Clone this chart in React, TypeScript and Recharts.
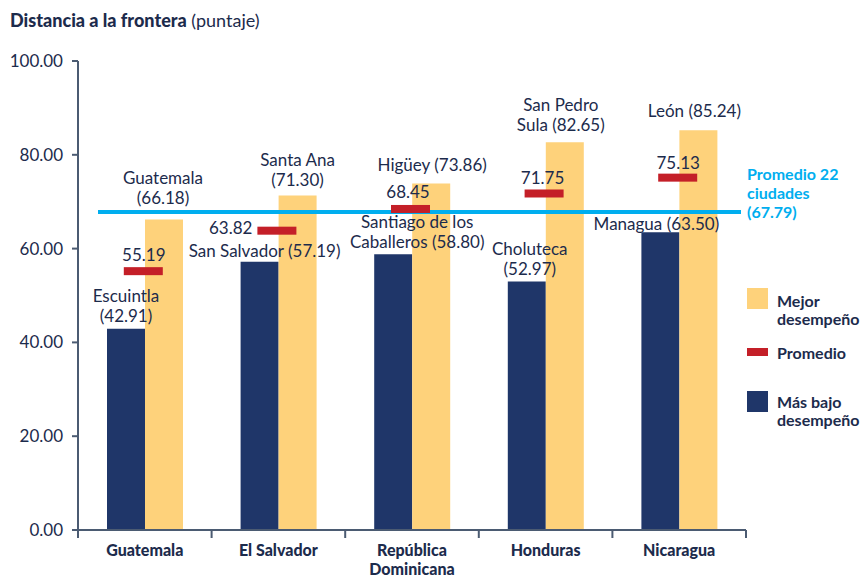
import { ComposedChart, Bar, Scatter, XAxis, YAxis, ReferenceLine, Legend, LabelList } from 'recharts'

// Data
const countries = ['Guatemala', 'El Salvador', 'República Dominicana', 'Honduras', 'Nicaragua']
const countryLines = [['Guatemala'], ['El Salvador'], ['República', 'Dominicana'], ['Honduras'], ['Nicaragua']]
const lowValues = [42.91, 57.19, 58.8, 52.97, 63.5]
const bestValues = [66.18, 71.3, 73.86, 82.65, 85.24]
const avgValues = [55.19, 63.82, 68.45, 71.75, 75.13]
const overallAvg = 67.79
// city names, already wrapped; an empty last line means the value goes on its own line
const lowCities = [['Escuintla', ''], ['San Salvador'], ['Santiago de los', 'Caballeros'], ['Choluteca', ''], ['Managua']]
const bestCities = [['Guatemala', ''], ['Santa Ana', ''], ['Higüey'], ['San Pedro', 'Sula'], ['León']]
const yTicks = [0, 20, 40, 60, 80, 100]
const legendItems = [['Mejor', 'desempeño'], ['Promedio'], ['Más bajo', 'desempeño']]
const avgLabelLines = ['Promedio 22', 'ciudades']

const FONT = 'Lato, "Noto Sans", sans-serif'
const NAVY = '#1f3669'
const GOLD = '#fed27b'
const RED = '#c41f28'
const CYAN = '#00aeef'
const INK = '#1c2b4c'
const AXIS = '#4b5b72'
const BAND = 133.6

// label nudges (layout only): horizontal shift and gap above the bar top
const lowNudge = [{ dx: 0, gap: 7 }, { dx: 5, gap: 5 }, { dx: 24, gap: 6 }, { dx: 3, gap: 7 }, { dx: -4, gap: 2 }]
const bestNudge = [{ dx: -1, gap: 16 }, { dx: 0, gap: 10 }, { dx: 1, gap: 13 }, { dx: -4, gap: 11 }, { dx: -4, gap: 13 }]
const meanNudge = [{ dx: -1, gap: 10 }, { dx: 0, gap: 0 }, { dx: -4, gap: 11 }, { dx: -3, gap: 9 }, { dx: -1, gap: 9 }]

const data = countries.map((name, i) => ({
  name,
  low: lowValues[i],
  best: bestValues[i],
  avg: avgValues[i],
}))

const barLabel = (names: string[][], values: number[], nudges: { dx: number; gap: number }[]) => (props: any) => {
  const i = props.index
  const name = names[i]
  const last = name[name.length - 1]
  const lines = [...name.slice(0, -1), (last ? last + ' ' : '') + `(${values[i].toFixed(2)})`]
  const cx = Number(props.x) + Number(props.width) / 2 + nudges[i].dx
  const base = Number(props.y) - nudges[i].gap
  return (
    <text textAnchor="middle" fill={INK} fontSize={17} fontFamily={FONT}>
      {lines.map((t, k) => (
        <tspan key={k} x={cx} y={base - (lines.length - 1 - k) * 20}>{t}</tspan>
      ))}
    </text>
  )
}

const renderMean = (props: any) => {
  const { cx, cy, payload } = props
  const i = countries.indexOf(payload.name)
  const label = avgValues[i].toFixed(2)
  // El Salvador's value sits to the left of its marker
  const side = i === 1
  return (
    <g>
      <rect x={cx - 21} y={cy - 4} width={39} height={8} fill={RED} />
      {side ? (
        <text x={cx - 26} y={cy + 3} textAnchor="end" fill={INK} fontSize={17} fontFamily={FONT}>{label}</text>
      ) : (
        <text x={cx + meanNudge[i].dx} y={cy - meanNudge[i].gap} textAnchor="middle" fill={INK} fontSize={17} fontFamily={FONT}>{label}</text>
      )}
    </g>
  )
}

const renderAvgLine = (props: any) => {
  const { x1, y1, x2 } = props
  const lines = [...avgLabelLines, `(${overallAvg.toFixed(2)})`]
  return (
    <g>
      <line x1={x1 + 20} y1={y1} x2={x2 - 5} y2={y1} stroke={CYAN} strokeWidth={4} />
      <text fill={CYAN} fontSize={16} fontWeight={700} fontFamily={FONT}>
        {lines.map((t, k) => (
          <tspan key={k} x={x2 + 1} y={y1 - 32 + k * 19}>{t}</tspan>
        ))}
      </text>
    </g>
  )
}

const renderCountryTick = (props: any) => {
  const { x, y, payload, index } = props
  const i = countries.indexOf(payload.value)
  const lines = countryLines[i]
  return (
    <g>
      <line x1={x - BAND / 2} y1={y} x2={x - BAND / 2} y2={y + 8} stroke={AXIS} strokeWidth={2} />
      {index === countries.length - 1 && (
        <line x1={x + BAND / 2} y1={y} x2={x + BAND / 2} y2={y + 8} stroke={AXIS} strokeWidth={2} />
      )}
      <text textAnchor="middle" fill={INK} fontSize={16} fontWeight={900} fontFamily={FONT}>
        {lines.map((t, k) => (
          <tspan key={k} x={x} y={y + 26 + k * 19}>{t}</tspan>
        ))}
      </text>
    </g>
  )
}

const renderLegend = () => {
  const swatches = [
    { fill: GOLD, y: 8, h: 21, ty: 27 },
    { fill: RED, y: 68, h: 8, ty: 79 },
    { fill: NAVY, y: 111, h: 21, ty: 128 },
  ]
  return (
    <svg width={125} height={160}>
      {swatches.map((s, i) => (
        <g key={i}>
          <rect x={7} y={s.y} width={21} height={s.h} fill={s.fill} />
          <text fill={INK} fontSize={16} fontWeight={700} fontFamily={FONT}>
            {legendItems[i].map((t, k) => (
              <tspan key={k} x={37} y={s.ty + k * 18}>{t}</tspan>
            ))}
          </text>
        </g>
      ))}
    </svg>
  )
}

export default function App() {
  return (
    <div style={{ position: 'absolute', left: 0, top: 0, width: 865, height: 579, background: '#fff' }}>
      <svg width={400} height={40} style={{ position: 'absolute', left: 0, top: 0 }}>
        <text x={10} y={27} fill={INK} fontSize={18} fontFamily={FONT}>
          <tspan fontWeight={900}>Distancia a la frontera</tspan>
          <tspan> (puntaje)</tspan>
        </text>
      </svg>
      <ComposedChart
        width={865}
        height={579}
        data={data}
        margin={{ top: 61, right: 119, bottom: 0, left: 0 }}
        barGap={0}
      >
        <XAxis
          dataKey="name"
          interval={0}
          height={49}
          tickLine={false}
          tickSize={0}
          tickMargin={0}
          axisLine={{ stroke: AXIS, strokeWidth: 2 }}
          tick={renderCountryTick}
        />
        <YAxis
          domain={[0, 100]}
          ticks={yTicks}
          interval={0}
          width={78}
          tickFormatter={(v: number) => v.toFixed(2)}
          tick={{ fill: INK, fontSize: 17, fontFamily: FONT }}
          axisLine={{ stroke: AXIS, strokeWidth: 2 }}
          tickLine={{ stroke: AXIS, strokeWidth: 2 }}
          tickSize={6}
          tickMargin={9}
        />
        <Bar dataKey="low" fill={NAVY} barSize={38} isAnimationActive={false}>
          <LabelList dataKey="low" content={barLabel(lowCities, lowValues, lowNudge)} />
        </Bar>
        <Bar dataKey="best" fill={GOLD} barSize={38} isAnimationActive={false}>
          <LabelList dataKey="best" content={barLabel(bestCities, bestValues, bestNudge)} />
        </Bar>
        <ReferenceLine y={overallAvg} shape={renderAvgLine} />
        <Scatter dataKey="avg" shape={renderMean} isAnimationActive={false} />
        <Legend
          layout="vertical"
          align="center"
          verticalAlign="middle"
          content={renderLegend}
          wrapperStyle={{ left: 740, top: 280, width: 125, height: 160 }}
        />
      </ComposedChart>
    </div>
  )
}
